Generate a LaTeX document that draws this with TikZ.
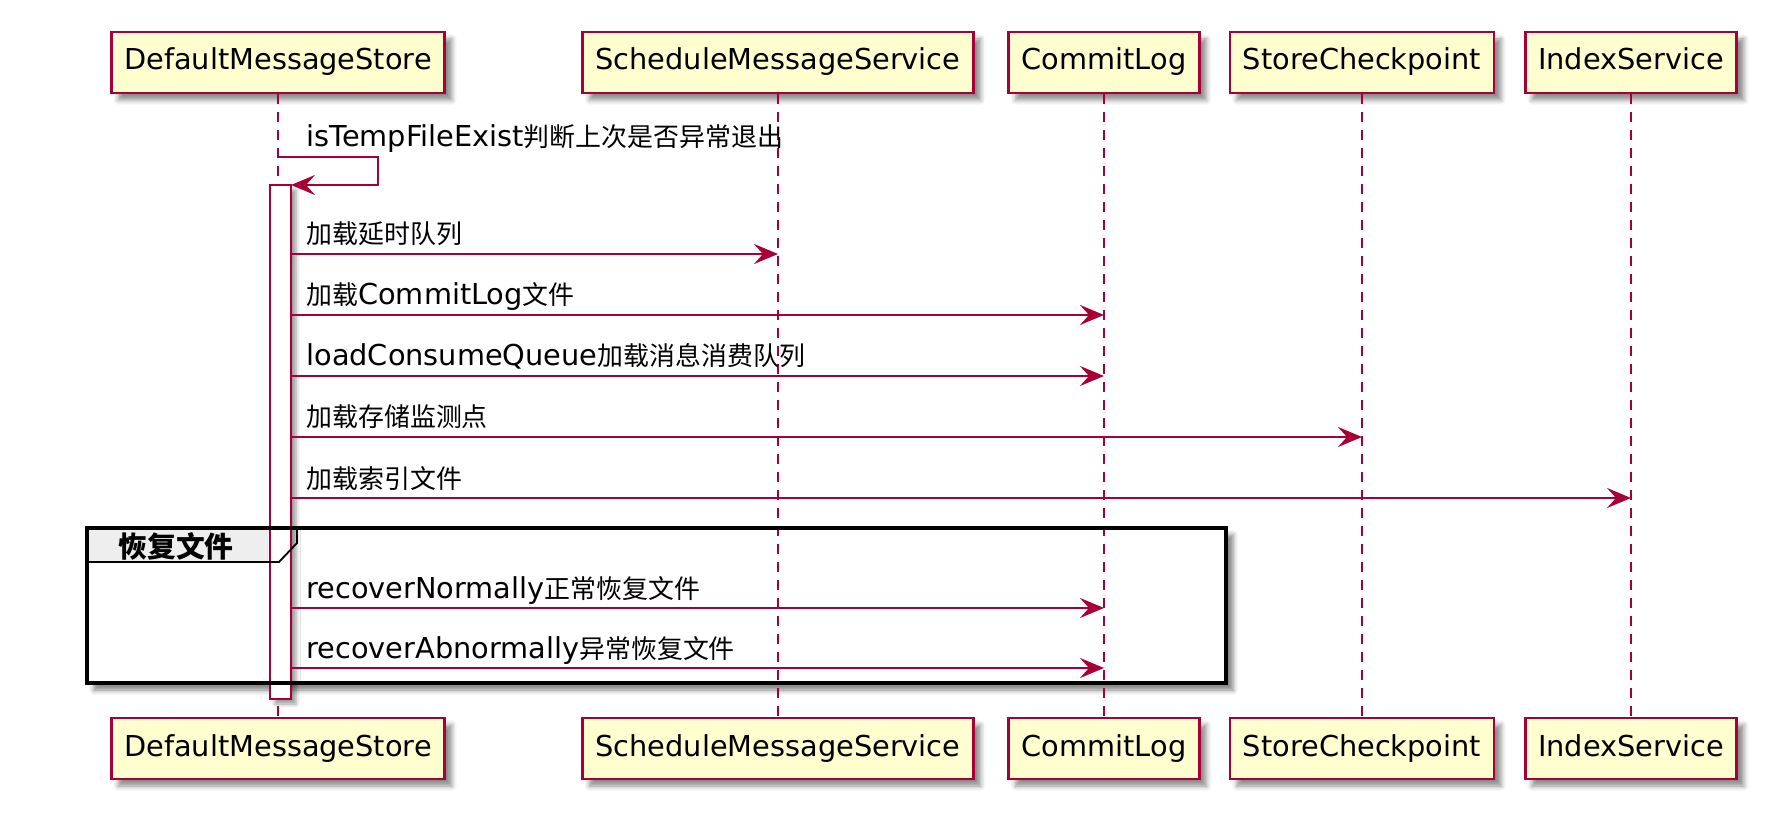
\documentclass[tikz,border=0pt]{standalone}
\usepackage{fontspec}
\setmainfont{DejaVu Sans}
\newfontfamily\cjk[Scale=0.9]{Noto Sans CJK SC}
\newfontfamily\cjkhead{Noto Sans CJK SC}
\usetikzlibrary{arrows.meta,shadows.blur}
\definecolor{umlred}{HTML}{A80036}
\definecolor{umlfill}{HTML}{FEFECE}
\definecolor{tabgray}{HTML}{EEEEEE}
\newcommand{\zh}[1]{{\cjk #1}}
\newcommand{\callmsg}[3]{\coordinate (s#1) at (291,#1);
  \draw[call] (s#1) -- (s#1 -| #2);
  \node[lbl] at ([xshift=7.5pt,yshift=5pt]s#1) {#3};}

\begin{document}
\begin{tikzpicture}[x=0.5pt,y=-0.5pt,
  every node/.style={font=\fontsize{14.4}{17}\selectfont},
  partbox/.style={draw=umlred,fill=umlfill,line width=1.4pt,minimum height=30.5pt,inner xsep=6.5pt,
    text height=10.5pt,text depth=3pt,
    blur shadow={shadow xshift=3.5pt,shadow yshift=-3.5pt,shadow blur radius=2.5pt,shadow opacity=45}},
  lifeline/.style={draw=umlred,line width=1pt,dash pattern=on 5pt off 4pt},
  call/.style={draw=umlred,line width=1pt,-{Stealth[length=12pt,width=10pt,inset=4.5pt]}},
  lbl/.style={anchor=base west,inner sep=0pt}]
  \useasboundingbox (0,0) rectangle (1778,828);
  \node[partbox] (dms) at (278,62.5) {DefaultMessageStore};
  \node[partbox] (sms) at (778,62.5) {ScheduleMessageService};
  \node[partbox] (cl) at (1104,62.5) {CommitLog};
  \node[partbox] (cp) at (1362,62.5) {StoreCheckpoint};
  \node[partbox] (ix) at (1631,62.5) {IndexService};
  \node[partbox] (dms2) at (278,748.5) {DefaultMessageStore};
  \node[partbox] (sms2) at (778,748.5) {ScheduleMessageService};
  \node[partbox] (cl2) at (1104,748.5) {CommitLog};
  \node[partbox] (cp2) at (1362,748.5) {StoreCheckpoint};
  \node[partbox] (ix2) at (1631,748.5) {IndexService};
  \fill[white,blur shadow={shadow xshift=3.5pt,shadow yshift=-3.5pt,shadow blur radius=2.5pt,shadow opacity=50}]
    (87,528) rectangle (1226,683);
  \fill[tabgray] (87,528) -- (297,528) -- (297,543) -- (279,562) -- (87,562) -- cycle;
  \foreach \p in {dms,sms,cl,cp,ix}
    \draw[lifeline] (\p.south) -- (\p2.north);
  \draw[umlred,fill=white,line width=1pt,
    blur shadow={shadow xshift=2.5pt,shadow yshift=-2.5pt,shadow blur radius=2pt,shadow opacity=40}]
    (270,185) rectangle (291,699);
  \draw[line width=1.75pt] (87,528) rectangle (1226,683);
  \draw[line width=0.9pt] (297,528) -- (297,543) -- (279,562) -- (87,562);
  \node (grp) at (176,546) {\cjkhead\bfseries 恢复文件};
  \coordinate (t0) at (278,157);
  \coordinate (a0) at (291,185);
  \draw[call] (t0) -| ([xshift=43.5pt]a0) -- (a0);
  \node[lbl] at ([xshift=14pt,yshift=5pt]t0) {isTempFileExist\zh{判断上次是否异常退出}};
  \callmsg{254}{sms}{\zh{加载延时队列}}
  \callmsg{315}{cl}{\zh{加载}CommitLog\zh{文件}}
  \callmsg{376}{cl}{loadConsumeQueue\zh{加载消息消费队列}}
  \callmsg{437}{cp}{\zh{加载存储监测点}}
  \callmsg{498}{ix}{\zh{加载索引文件}}
  \callmsg{608}{cl}{recoverNormally\zh{正常恢复文件}}
  \callmsg{668}{cl}{recoverAbnormally\zh{异常恢复文件}}
\end{tikzpicture}
\end{document}
